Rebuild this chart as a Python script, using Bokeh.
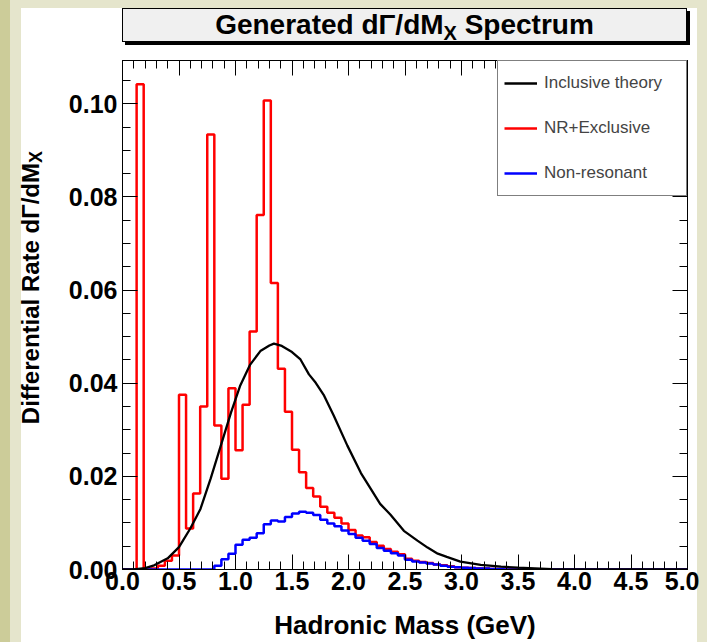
import numpy as np
from bokeh.plotting import figure
from bokeh.models import (Range1d, LinearAxis, FixedTicker, PrintfTickFormatter,
                          CustomJSTickFormatter, Legend, LegendItem, Spacer, Div)
from bokeh.layouts import row, column
from bokeh.embed import file_html
from bokeh.resources import INLINE

# ---------------- data ----------------
bin_width = 0.0625
n_bins = 80

nr_exclusive = [0, 0, 0.1042, 0, 0.0002, 0.0008, 0.0019, 0.0030,
                0.0375, 0.0088, 0.0163, 0.0350, 0.0934, 0.0309, 0.0195, 0.0389,
                0.0256, 0.0354, 0.0511, 0.0761, 0.1007, 0.0615, 0.0431, 0.0339,
                0.0257, 0.0209, 0.0175, 0.0157, 0.0135, 0.0122, 0.0111, 0.0099,
                0.0085, 0.0073, 0.0069, 0.0059, 0.0051, 0.0044, 0.0038, 0.0033,
                0.0023, 0.0019, 0.0016, 0.0014, 0.0011, 0.0009, 0.0007, 0.0005,
                0.0004, 0.0003, 0.0002, 0.0002, 0.0001, 0.0001] + [0] * 26

non_resonant = [0] * 13 + [0.0008, 0.0022, 0.0034,
                0.0053, 0.0064, 0.0068, 0.0078, 0.0097, 0.0105, 0.0103, 0.0113,
                0.0120, 0.0124, 0.0122, 0.0117, 0.0107, 0.0099, 0.0093, 0.0084,
                0.0076, 0.0068, 0.0062, 0.0055, 0.0046, 0.0040, 0.0035, 0.0030,
                0.0021, 0.0017, 0.0015, 0.0013, 0.0011, 0.0008, 0.0006, 0.0005,
                0.0004, 0.0003, 0.0002, 0.0002, 0.0001, 0.0001] + [0] * 26

theory_x = [0.0, 0.1, 0.2, 0.28, 0.4, 0.5, 0.6, 0.69, 0.78, 0.87, 0.96, 1.04,
            1.13, 1.22, 1.30, 1.34, 1.41, 1.50, 1.575, 1.65, 1.71, 1.78, 1.87,
            1.99, 2.11, 2.20, 2.28, 2.37, 2.49, 2.61, 2.70, 2.79, 2.87, 2.99,
            3.17, 3.35, 3.5, 3.8, 4.1, 4.5, 5.0]
theory_y = [0, 0, 0.0003, 0.0009, 0.0024, 0.0048, 0.0088, 0.0130, 0.0195,
            0.0266, 0.0337, 0.0394, 0.0440, 0.0469, 0.0481, 0.0485, 0.0480,
            0.0467, 0.0451, 0.0419, 0.0401, 0.0375, 0.0330, 0.0266, 0.0207,
            0.0172, 0.0141, 0.0118, 0.0083, 0.0062, 0.0047, 0.0034, 0.0027,
            0.0017, 0.0010, 0.0006, 0.0004, 0.0001, 0.0, 0.0, 0.0]

x_ticks = [0.0, 0.5, 1.0, 1.5, 2.0, 2.5, 3.0, 3.5, 4.0, 4.5, 5.0]
y_ticks = [0.00, 0.02, 0.04, 0.06, 0.08, 0.10]
x_minor = [round(0.1 * i, 2) for i in range(51)]
y_minor = [round(0.005 * i, 4) for i in range(22)]

legend_labels = ["Inclusive theory", "NR+Exclusive", "Non-resonant"]
title_html = "Generated d\u0393/dM<sub style='font-size:20px;vertical-align:-6px;line-height:0'>X</sub> Spectrum"
ylab_html = "Differential Rate d\u0393/dM<sub style='font-size:18px;vertical-align:-5px;line-height:0'>X</sub>"
xlab = "Hadronic Mass (GeV)"

FONT = "Liberation Sans"

# ---------------- figure ----------------
p = figure(width=649, height=597, x_range=Range1d(0, 5), y_range=Range1d(0, 0.1093),
           output_backend="svg", toolbar_location=None, title=None,
           min_border_left=72, min_border_right=12, min_border_top=15, min_border_bottom=71)
p.background_fill_color = "white"
p.border_fill_alpha = 0.0
p.grid.visible = False
p.outline_line_color = "black"

edges = list(np.arange(n_bins + 1) * bin_width)
r_red = p.step(x=edges, y=nr_exclusive + [nr_exclusive[-1]], mode="after",
               line_color="#ff0000", line_width=2.5)
r_blue = p.step(x=edges, y=non_resonant + [non_resonant[-1]], mode="after",
                line_color="#0000ff", line_width=2.5)
r_black = p.line(x=theory_x, y=theory_y, line_color="black", line_width=2.3)


def style_axis(ax, ticks, minor, fmt, size, standoff):
    ax.ticker = FixedTicker(ticks=ticks, minor_ticks=minor)
    ax.formatter = fmt
    ax.axis_line_color = "black"
    ax.axis_line_width = 1
    ax.major_tick_in = 15
    ax.major_tick_out = 0
    ax.minor_tick_in = 8
    ax.minor_tick_out = 0
    ax.major_tick_line_color = "black"
    ax.minor_tick_line_color = "black"
    ax.major_label_text_font = FONT
    ax.major_label_text_font_style = "bold"
    ax.major_label_text_font_size = size
    ax.major_label_text_color = "black"
    ax.major_label_standoff = standoff


style_axis(p.xaxis[0], x_ticks, x_minor, PrintfTickFormatter(format="%.1f"), "25px", 2)
style_axis(p.yaxis[0], y_ticks, y_minor, PrintfTickFormatter(format="%.2f"), "25px", 5)
p.xaxis[0].axis_label = xlab
p.xaxis[0].axis_label_text_font = FONT
p.xaxis[0].axis_label_text_font_style = "bold"
p.xaxis[0].axis_label_text_font_size = "26px"
p.xaxis[0].axis_label_text_color = "black"
p.xaxis[0].axis_label_standoff = 17

blank = CustomJSTickFormatter(code="return ''")
top_ax = LinearAxis()
style_axis(top_ax, x_ticks, x_minor, blank, "1px", 0)
p.add_layout(top_ax, "above")
right_ax = LinearAxis()
style_axis(right_ax, y_ticks, y_minor, blank, "1px", 0)
p.add_layout(right_ax, "right")

# ---------------- legend ----------------
legend = Legend(items=[LegendItem(label=legend_labels[0], renderers=[r_black]),
                       LegendItem(label=legend_labels[1], renderers=[r_red]),
                       LegendItem(label=legend_labels[2], renderers=[r_blue])],
                location="top_right", margin=0, padding=6, spacing=13,
                glyph_width=33, glyph_height=32, label_height=32, label_width=136,
                label_standoff=7, border_line_color="black", border_line_width=1,
                background_fill_color="white", background_fill_alpha=1.0,
                label_text_font=FONT, label_text_font_size="17px")
p.add_layout(legend)

# ---------------- title box & y label (HTML text) ----------------
title_div = Div(text=title_html, width=565, height=34, margin=0,
                styles={"background-color": "#f0f0f0", "border": "1px solid black",
                        "box-shadow": "3px 3px 0px black", "box-sizing": "border-box",
                        "text-align": "center", "font-family": FONT, "font-weight": "bold",
                        "font-size": "28px", "line-height": "32px", "color": "black",
                        "overflow": "visible"})

ylab_div = Div(text=("<div style=\"position:absolute;left:-5px;top:0px;width:29px;height:486px;"
                     "display:flex;align-items:center;justify-content:center;\">"
                     "<span style=\"writing-mode:vertical-rl;transform:rotate(180deg);white-space:nowrap;"
                     "font-family:'Liberation Sans';font-weight:bold;font-size:24px;line-height:29px;color:black;\">"
                     + ylab_html + "</span></div>"),
               width=29, height=597, margin=0,
               styles={"overflow": "visible", "position": "relative"})

layout = column(row(Spacer(width=114, height=34, margin=0), title_div, spacing=0),
                Spacer(width=10, height=3, margin=0),
                row(Spacer(width=13, height=597, margin=0), ylab_div, p, spacing=0),
                spacing=0)

html = file_html(layout, INLINE, title="Generated spectrum")
style = ("<style>html{background:"
         "linear-gradient(#cccc99,#cccc99) left top/10px 100% no-repeat,"
         "linear-gradient(#e5e5cc,#e5e5cc) left top/100% 8px no-repeat,"
         "linear-gradient(to right,#e5e5cc 0px,#e5e5cc 21px,#ffffff 21px,#ffffff 697px,#e5e5cc 697px);}"
         "body{background:transparent;margin:8px 8px 0 8px;}</style>")
html = html.replace("</head>", style + "</head>", 1)
open("out.html", "w").write(html)
